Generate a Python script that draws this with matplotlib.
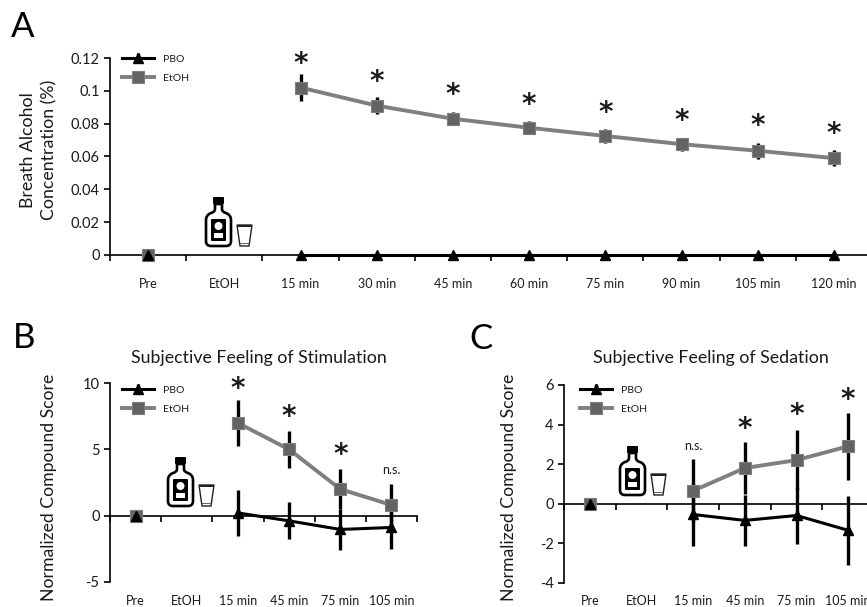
import numpy as np
import matplotlib
matplotlib.use("Agg")
from matplotlib import pyplot as plt
from matplotlib.patches import Circle, FancyBboxPatch, PathPatch, Polygon, Rectangle
from matplotlib.path import Path

plt.rcParams['font.family'] = ['Lato', 'DejaVu Sans']

W, H = 867, 607
GREY = '#7f7f7f'
SQUARE = '#636363'
TEXT = '#1a1a1a'

nan = np.nan

# panel A
labels_a = ['Pre', 'EtOH', '15 min', '30 min', '45 min', '60 min', '75 min', '90 min', '105 min', '120 min']
pbo_a = [0, nan, 0, 0, 0, 0, 0, 0, 0, 0]
pbo_err_a = [0, nan, 0, 0, 0, 0, 0, 0, 0, 0]
etoh_a = [0, nan, 0.102, 0.091, 0.083, 0.0775, 0.0725, 0.0675, 0.0635, 0.059]
etoh_err_a = [0, nan, 0.008, 0.005, 0.004, 0.004, 0.004, 0.004, 0.005, 0.005]
marks_a = [nan, nan, 0.119, 0.108, 0.1, 0.094, 0.089, 0.084, 0.081, 0.076]
yticks_a = [0, 0.02, 0.04, 0.06, 0.08, 0.1, 0.12]
yticklabels_a = ['0', '0.02', '0.04', '0.06', '0.08', '0.1', '0.12']

# panel B
labels_b = ['Pre', 'EtOH', '15 min', '45 min', '75 min', '105 min']
pbo_b = [0, nan, 0.2, -0.4, -1.05, -0.9]
pbo_err_b = [0, nan, 1.75, 1.4, 1.55, 1.6]
etoh_b = [0, nan, 7, 5, 2, 0.8]
etoh_err_b = [0, nan, 1.75, 1.4, 1.5, 1.6]
marks_b = [nan, nan, 9.9, 7.8, 4.9, nan]
ns_b = [nan, nan, nan, nan, nan, 3.45]
yticks_b = [-5, 0, 5, 10]

# panel C
labels_c = ['Pre', 'EtOH', '15 min', '45 min', '75 min', '105 min']
pbo_c = [0, nan, -0.55, -0.85, -0.6, -1.35]
pbo_err_c = [0, nan, 1.6, 1.3, 1.45, 1.75]
etoh_c = [0, nan, 0.65, 1.8, 2.2, 2.9]
etoh_err_c = [0, nan, 1.6, 1.3, 1.5, 1.7]
marks_c = [nan, nan, nan, 3.96, 4.67, 5.43]
ns_c = [nan, nan, 2.9, nan, nan, nan]
yticks_c = [-4, -2, 0, 2, 4, 6]


def axes_px(fig, left, right, top, bottom):
    return fig.add_axes([left / W, 1 - bottom / H, (right - left) / W, (bottom - top) / H])


def draw_bottle(ax, x, y):
    # cap, body, label then the small glass next to it
    ax.add_patch(FancyBboxPatch((x + 9, y + 1), 9, 5, boxstyle='round,pad=1', fc='black', ec='none'))
    verts = [(x + 10, y + 7), (x + 10, y + 12), (x + 10, y + 15), (x + 6, y + 16), (x + 1, y + 18), (x + 1, y + 23),
             (x + 1, y + 44), (x + 1, y + 49), (x + 6, y + 49), (x + 21, y + 49), (x + 26, y + 49), (x + 26, y + 44),
             (x + 26, y + 23), (x + 26, y + 18), (x + 21, y + 16), (x + 17, y + 15), (x + 17, y + 12), (x + 17, y + 7),
             (x + 10, y + 7)]
    codes = [Path.MOVETO, Path.LINETO, Path.CURVE3, Path.CURVE3, Path.CURVE3, Path.CURVE3,
             Path.LINETO, Path.CURVE3, Path.CURVE3, Path.LINETO, Path.CURVE3, Path.CURVE3,
             Path.LINETO, Path.CURVE3, Path.CURVE3, Path.CURVE3, Path.CURVE3, Path.LINETO,
             Path.CLOSEPOLY]
    ax.add_patch(PathPatch(Path(verts, codes), fc='white', ec='black', lw=1.9))
    ax.add_patch(FancyBboxPatch((x + 7, y + 23), 13, 20, boxstyle='round,pad=1', fc='black', ec='none'))
    ax.add_patch(Circle((x + 13.5, y + 29), 4, fc='white', ec='none'))
    ax.add_patch(Rectangle((x + 9, y + 36), 9, 5, fc='white', ec='none'))
    gx, gy = x + 32, y + 28
    ax.add_patch(Polygon([(gx, gy), (gx + 15, gy), (gx + 12, gy + 21), (gx + 3, gy + 21)],
                         fc='white', ec='#222222', lw=1.0))
    ax.add_patch(Rectangle((gx + 0.5, gy), 14, 1.8, fc='#222222', ec='none'))
    ax.add_patch(Rectangle((gx + 3, gy + 18), 9, 1.2, fc='#666666', ec='none'))


def draw_panel(fig, px, box, ylim, labels, pbo, pbo_err, etoh, etoh_err, marks, ns,
               yticks, yticklabels, label_pad, legend_xy, tick_size):
    ax = axes_px(fig, *box)
    ax.patch.set_alpha(0)
    x = np.arange(len(labels)) + 0.5

    ax.errorbar(x, pbo, yerr=pbo_err, color='black', lw=2.2, elinewidth=2.4, marker='^', ms=7.5,
                mec='black', mfc='black', label='PBO', clip_on=False, zorder=3)
    ax.errorbar(x, etoh, yerr=etoh_err, color=GREY, lw=2.8, elinewidth=2.4, ecolor='black', marker='s', ms=8,
                mec=GREY, mfc=SQUARE, mew=0.8, label='EtOH', clip_on=False, zorder=4)
    # the Pre triangle sits on top of the square
    ax.plot(x[0], pbo[0], marker='^', ms=6.5, color='black', clip_on=False, zorder=5)

    for xi, yi in zip(x, marks):
        if not np.isnan(yi):
            ax.annotate('*', (xi, yi), xytext=(0, -3), textcoords='offset points', ha='center', va='center',
                        fontsize=20, family='DejaVu Sans', weight='bold', color=TEXT, annotation_clip=False, zorder=6)
    for xi, yi in zip(x, ns):
        if not np.isnan(yi):
            ax.text(xi, yi, 'n.s.', ha='center', va='center', fontsize=9, color=TEXT, zorder=6)

    ax.set_xlim(0, len(labels))
    ax.set_ylim(*ylim)
    ax.set_xticks(np.arange(len(labels) + 1))
    ax.set_xticklabels([])
    ax.set_xticks(x, labels, minor=True)
    ax.set_yticks(yticks, yticklabels)
    ax.tick_params(axis='x', which='major', direction='out', length=4.5, width=1.2)
    ax.tick_params(axis='x', which='minor', length=0, pad=label_pad, labelsize=9, labelcolor=TEXT)
    ax.tick_params(axis='y', direction='out', length=4.5, width=1.2, labelsize=tick_size, labelcolor=TEXT, pad=3)
    ax.spines[['top', 'right']].set_visible(False)
    ax.spines['bottom'].set_position(('data', 0))
    ax.spines['bottom'].set_linewidth(1.2)
    ax.spines['left'].set_linewidth(1.2)

    ax.legend(loc='upper left', bbox_to_anchor=legend_xy, bbox_transform=px.transData, frameon=False,
              fontsize=7.5, borderpad=0, borderaxespad=0, handlelength=3.1, handletextpad=0.85,
              labelspacing=0.94, labelcolor=TEXT)
    return ax


fig = plt.figure(figsize=(W / 100, H / 100), dpi=100)
px = fig.add_axes([0, 0, 1, 1])
px.set_xlim(0, W)
px.set_ylim(H, 0)
px.axis('off')

draw_panel(fig, px, (110, 872, 58, 255), (0, 0.12), labels_a, pbo_a, pbo_err_a, etoh_a, etoh_err_a,
           marks_a, [nan] * 10, yticks_a, yticklabels_a, 16.5, (122, 54.5), 10.5)
draw_panel(fig, px, (110, 417, 383.3, 581.7), (-5, 10), labels_b, pbo_b, pbo_err_b, etoh_b, etoh_err_b,
           marks_b, ns_b, yticks_b, yticks_b, 57.5, (122, 385.5), 10.5)
draw_panel(fig, px, (564, 874, 385, 582.7), (-4, 6), labels_c, pbo_c, pbo_err_c, etoh_c, etoh_err_c,
           marks_c, ns_c, yticks_c, yticks_c, 66, (580, 385.5), 10.5)

draw_bottle(px, 205, 197)
draw_bottle(px, 167, 457)
draw_bottle(px, 619, 446)

for letter, lx, ly in [('A', 11, 27), ('B', 13, 338), ('C', 469, 339)]:
    px.text(lx, ly, letter, fontsize=25, ha='left', va='center', color='black')

px.text(259, 358, 'Subjective Feeling of Stimulation', fontsize=12.75, ha='center', va='center', color=TEXT)
px.text(711, 358, 'Subjective Feeling of Sedation', fontsize=12.75, ha='center', va='center', color=TEXT)
px.text(39, 150, 'Breath Alcohol\nConcentration (%)', fontsize=12.8, rotation=90, ha='center', va='center',
        ma='center', color=TEXT, linespacing=1.42)
px.text(49, 487, 'Normalized Compound Score', fontsize=12.7, rotation=90, ha='center', va='center', color=TEXT)
px.text(509, 487, 'Normalized Compound Score', fontsize=12.7, rotation=90, ha='center', va='center', color=TEXT)

fig.savefig('out.png', dpi=100)
